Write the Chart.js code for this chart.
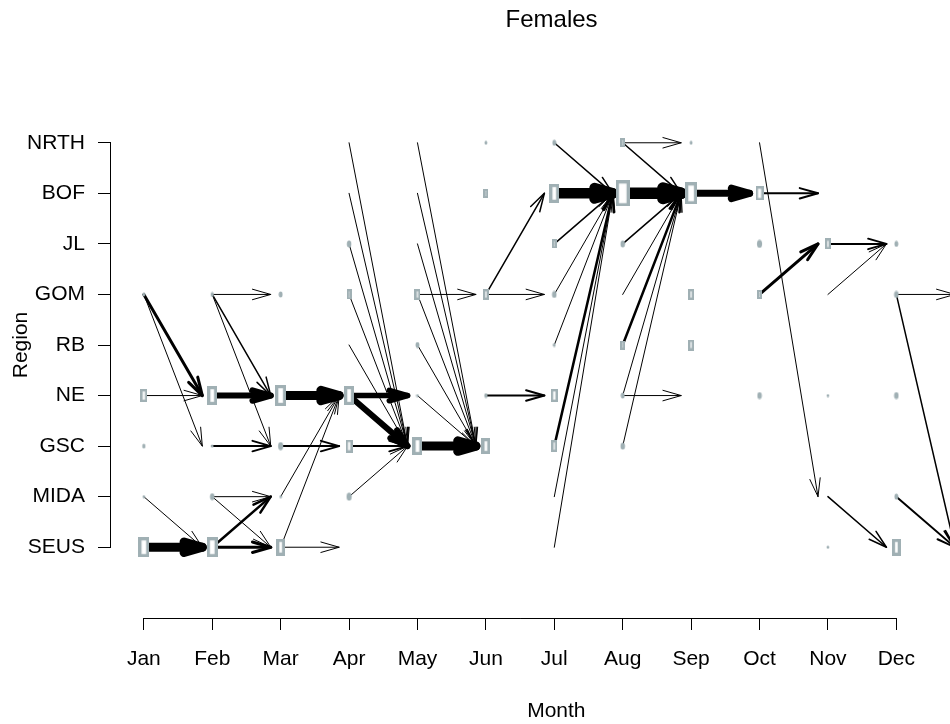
<!DOCTYPE html>
<html>
<head>
<meta charset="utf-8">
<title>Females</title>
<script src="https://cdn.jsdelivr.net/npm/chart.js@4.4.1/dist/chart.umd.min.js"></script>
<style>
  html, body { margin: 0; padding: 0; background: #fff; }
  #wrap { width: 950px; height: 724px; }
</style>
</head>
<body>
<div id="wrap"><canvas id="chart" width="950" height="724"></canvas></div>
<script>
'use strict';

/* ── Axis categories ─────────────────────────────────────────────── */
const MONTHS  = ['Jan', 'Feb', 'Mar', 'Apr', 'May', 'Jun', 'Jul', 'Aug', 'Sep', 'Oct', 'Nov', 'Dec'];
const REGIONS = ['SEUS', 'MIDA', 'GSC', 'NE', 'RB', 'GOM', 'JL', 'BOF', 'NRTH'];   // bottom -> top

/* ── Monthly presence (box size ~ number of animals) ────────────── */
const boxMonth  = [1, 1, 1, 1, 1,
                   2, 2, 2, 2, 2,
                   3, 3, 3, 3, 3,
                   4, 4, 4, 4, 4,
                   5, 5, 5, 5,
                   6, 6, 6, 6, 6,
                   7, 7, 7, 7, 7, 7, 7,
                   8, 8, 8, 8, 8, 8,
                   9, 9, 9, 9,
                   10, 10, 10, 10,
                   11, 11, 11,
                   12, 12, 12, 12, 12];
const boxRegion = ['GOM', 'NE', 'GSC', 'MIDA', 'SEUS',
                   'GOM', 'NE', 'GSC', 'MIDA', 'SEUS',
                   'GOM', 'NE', 'GSC', 'MIDA', 'SEUS',
                   'JL', 'GOM', 'NE', 'GSC', 'MIDA',
                   'GOM', 'RB', 'NE', 'GSC',
                   'NRTH', 'BOF', 'GOM', 'NE', 'GSC',
                   'NRTH', 'BOF', 'JL', 'GOM', 'RB', 'NE', 'GSC',
                   'NRTH', 'BOF', 'JL', 'RB', 'NE', 'GSC',
                   'NRTH', 'BOF', 'GOM', 'RB',
                   'BOF', 'JL', 'GOM', 'NE',
                   'JL', 'NE', 'SEUS',
                   'JL', 'GOM', 'NE', 'MIDA', 'SEUS'];
const boxCount  = [4, 13, 5, 3, 20,
                   5, 19, 3, 7, 20,
                   6, 21, 8, 3, 17,
                   7, 10, 19, 13, 8,
                   11, 6, 3, 18,
                   4, 9, 11, 5, 16,
                   6, 19, 9, 7, 4, 13, 12,
                   9, 26, 7, 9, 6, 7,
                   4, 22, 11, 11,
                   14, 8, 9, 7,
                   11, 3, 3,
                   6, 7, 7, 6, 17];

/* ── Movements to the next month (arrow weight ~ number of animals) ─ */
const moveMonth  = [1, 1, 1, 1, 1,
                    2, 2, 2, 2, 2, 2, 2, 2, 2,
                    3, 3, 3, 3, 3,
                    4, 4, 4, 4, 4, 4, 4, 4, 4,
                    5, 5, 5, 5, 5, 5, 5, 5,
                    6, 6, 6,
                    7, 7, 7, 7, 7, 7, 7, 7,
                    8, 8, 8, 8, 8, 8, 8, 8, 8,
                    9,
                    10, 10, 10,
                    11, 11, 11,
                    12, 12, 12];
const moveFrom   = ['GOM', 'GOM', 'NE', 'MIDA', 'SEUS',
                    'GOM', 'GOM', 'GOM', 'NE', 'GSC', 'MIDA', 'MIDA', 'SEUS', 'SEUS',
                    'NE', 'GSC', 'MIDA', 'SEUS', 'SEUS',
                    'NRTH', 'BOF', 'JL', 'GOM', 'RB', 'NE', 'NE', 'GSC', 'MIDA',
                    'NRTH', 'BOF', 'JL', 'GOM', 'GOM', 'RB', 'NE', 'GSC',
                    'GOM', 'GOM', 'NE',
                    'BOF', 'NRTH', 'JL', 'GOM', 'RB', 'GSC', 'MIDA', 'SEUS',
                    'BOF', 'NRTH', 'NRTH', 'JL', 'GOM', 'RB', 'NE', 'NE', 'GSC',
                    'BOF',
                    'BOF', 'GOM', 'NRTH',
                    'JL', 'GOM', 'MIDA',
                    'GOM', 'GOM', 'MIDA'];
const moveTo     = ['NE', 'GSC', 'NE', 'SEUS', 'SEUS',
                    'GOM', 'NE', 'GSC', 'NE', 'GSC', 'MIDA', 'SEUS', 'MIDA', 'SEUS',
                    'NE', 'GSC', 'NE', 'NE', 'SEUS',
                    'GSC', 'GSC', 'GSC', 'GSC', 'GSC', 'NE', 'GSC', 'GSC', 'GSC',
                    'GSC', 'GSC', 'GSC', 'GSC', 'GOM', 'GSC', 'GSC', 'GSC',
                    'BOF', 'GOM', 'NE',
                    'BOF', 'BOF', 'BOF', 'BOF', 'BOF', 'BOF', 'BOF', 'BOF',
                    'BOF', 'BOF', 'NRTH', 'BOF', 'BOF', 'BOF', 'BOF', 'NE', 'BOF',
                    'BOF',
                    'BOF', 'JL', 'MIDA',
                    'JL', 'JL', 'SEUS',
                    'GOM', 'SEUS', 'SEUS'];
const moveWeight = [3, 1, 1, 1, 9,
                    1, 1.5, 1, 6, 2, 1, 1, 2.5, 3,
                    9, 2, 1, 1, 1,
                    1, 1, 1, 1, 1, 5.5, 6, 2, 1,
                    1, 1, 1, 1, 1, 1, 1, 9,
                    1.5, 1, 2,
                    10.5, 1.5, 1.5, 1, 1, 2.5, 1, 1,
                    11.5, 1.5, 1, 1.5, 1, 2.5, 1, 1, 1,
                    7,
                    2, 3, 1,
                    2, 1, 1.5,
                    1, 1.5, 2];

/* ── Style ──────────────────────────────────────────────────────── */
const FONT     = 'Liberation Sans, Arial, Helvetica, sans-serif';
const BOX_GREY = '#a0b0b4';
const HEAD_LEN = 19;
const HEAD_ANG = 16 * Math.PI / 180;
const TIP_GAP  = 0.145;   // arrows stop short of the next month (x units)

const regionY = name => REGIONS.indexOf(name) + 1;

/* ── Box glyph (outlined rectangle, tiny ones as filled dots) ───── */
const glyphCache = {};
function boxGlyph(s) {
  if (glyphCache[s]) return glyphCache[s];
  const c = document.createElement('canvas');
  const g = c.getContext('2d');
  if (s >= 9) {
    const w  = Math.round(s * 0.54);
    const lw = s >= 15 ? 3.2 : 2.4;
    c.width = w; c.height = s;
    g.fillStyle = '#fff';
    g.fillRect(0, 0, w, s);
    g.strokeStyle = BOX_GREY;
    g.lineWidth = lw;
    g.strokeRect(lw / 2, lw / 2, w - lw, s - lw);
  } else {
    const rx = Math.max(1.4, s * 0.32);
    c.width = Math.ceil(rx * 2) + 1; c.height = s + 1;
    g.fillStyle = BOX_GREY;
    g.beginPath();
    g.ellipse(c.width / 2, c.height / 2, rx, s / 2, 0, 0, Math.PI * 2);
    g.fill();
  }
  glyphCache[s] = c;
  return c;
}

/* ── Arrows + R-style axis lines + titles ───────────────────────── */
function drawArrow(ctx, x0, y0, x1, y1, lw) {
  const a = Math.atan2(y1 - y0, x1 - x0);
  ctx.lineWidth = lw;
  ctx.beginPath();
  ctx.moveTo(x0, y0);
  ctx.lineTo(x1, y1);
  ctx.stroke();
  ctx.beginPath();
  ctx.moveTo(x1 - HEAD_LEN * Math.cos(a - HEAD_ANG), y1 - HEAD_LEN * Math.sin(a - HEAD_ANG));
  ctx.lineTo(x1, y1);
  ctx.lineTo(x1 - HEAD_LEN * Math.cos(a + HEAD_ANG), y1 - HEAD_LEN * Math.sin(a + HEAD_ANG));
  ctx.stroke();
}

const movesPlugin = {
  id: 'moves',
  beforeDatasetsDraw(chart) {
    const { ctx, scales: { x, y } } = chart;
    ctx.save();
    ctx.strokeStyle = '#000';
    ctx.lineCap = 'round';
    ctx.lineJoin = 'round';
    moveMonth.forEach((m, i) => {
      drawArrow(ctx,
        x.getPixelForValue(m), y.getPixelForValue(regionY(moveFrom[i])),
        x.getPixelForValue(m + 1 - TIP_GAP), y.getPixelForValue(regionY(moveTo[i])),
        moveWeight[i]);
    });
    ctx.restore();
  },
  afterDraw(chart) {
    const { ctx, chartArea, scales: { x, y } } = chart;
    ctx.save();
    ctx.strokeStyle = '#000';
    ctx.lineWidth = 1;
    ctx.beginPath();
    ctx.moveTo(x.getPixelForValue(1), chartArea.bottom + 0.5);
    ctx.lineTo(x.getPixelForValue(MONTHS.length), chartArea.bottom + 0.5);
    ctx.moveTo(chartArea.left - 0.5, y.getPixelForValue(1));
    ctx.lineTo(chartArea.left - 0.5, y.getPixelForValue(REGIONS.length));
    ctx.stroke();

    ctx.fillStyle = '#000';
    ctx.textAlign = 'center';
    ctx.textBaseline = 'middle';
    ctx.font = '24px ' + FONT;
    ctx.fillText('Females', x.getPixelForValue(6.96), 20);
    ctx.font = '21px ' + FONT;
    ctx.fillText('Month', x.getPixelForValue(7.03), 711);
    ctx.restore();
  }
};

/* ── Chart ──────────────────────────────────────────────────────── */
const boxPoints = boxMonth.map((m, i) => ({ x: m, y: regionY(boxRegion[i]), s: boxCount[i] }));
const tickFont  = { family: FONT, size: 21 };

new Chart(document.getElementById('chart'), {
  type: 'scatter',
  data: {
    datasets: [{
      data: boxPoints,
      pointStyle: c => boxGlyph(c.raw.s),
      pointRadius: 3,
      pointHoverRadius: 3
    }]
  },
  options: {
    responsive: false,
    animation: false,
    devicePixelRatio: 1,
    events: [],
    layout: { padding: { top: 72, left: 0, right: 0, bottom: 0 } },
    plugins: { legend: { display: false }, tooltip: { enabled: false } },
    scales: {
      x: {
        type: 'linear',
        min: 0.52,
        max: 12.726,
        afterBuildTicks: s => { s.ticks = MONTHS.map((_, i) => ({ value: i + 1 })); },
        afterFit: s => { s.height = 106; },
        border: { display: false },
        grid: { drawOnChartArea: false, tickLength: 12, color: '#000', lineWidth: 1 },
        ticks: { callback: v => MONTHS[v - 1], font: tickFont, color: '#000', padding: 17, maxRotation: 0, autoSkip: false }
      },
      y: {
        type: 'linear',
        min: -0.4,
        max: 10.4,
        afterBuildTicks: s => { s.ticks = REGIONS.map((_, i) => ({ value: i + 1 })); },
        afterFit: s => { s.width = 111; },
        border: { display: false },
        grid: { drawOnChartArea: false, tickLength: 13, color: '#000', lineWidth: 1 },
        ticks: { callback: v => REGIONS[v - 1], font: tickFont, color: '#000', padding: 13, autoSkip: false },
        title: { display: true, text: 'Region', font: { family: FONT, size: 21 }, color: '#000', padding: { top: 9, bottom: 0 } }
      }
    }
  },
  plugins: [movesPlugin]
});
</script>
</body>
</html>
